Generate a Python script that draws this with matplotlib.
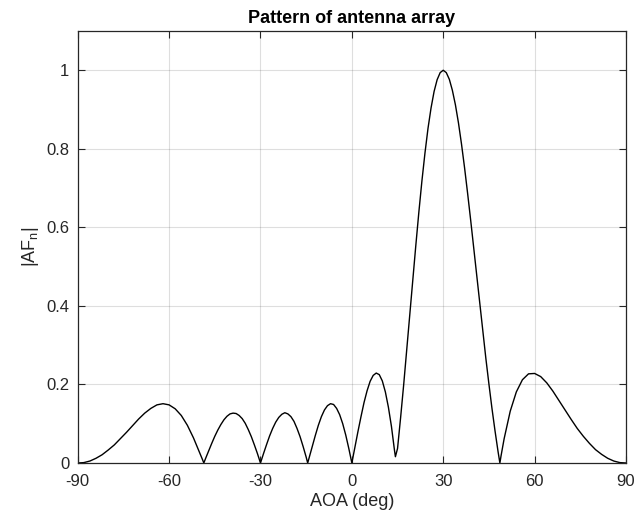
import matplotlib
matplotlib.use("Agg")
import matplotlib.pyplot as plt

# angle of arrival (deg) and normalised array factor magnitude
aoa = [-90, -88, -86, -84, -82, -80, -78, -76, -74, -72, -70, -68, -66, -64, -62,
       -60, -58, -56, -54, -52, -50, -49, -48.6, -48, -47, -46, -45, -44, -43, -42,
       -41, -40, -39, -38, -37, -36, -35, -34, -33, -32, -31, -30, -29, -28, -27,
       -26, -25, -24, -23, -22, -21, -20, -19, -18, -17, -16, -15, -14.5, -14, -13,
       -12, -11, -10, -9, -8, -7, -6, -5, -4, -3, -2, -1, 0, 1, 2, 3, 4, 5, 6, 7,
       8, 9, 10, 11, 12, 13, 14, 14.3, 15, 16, 17, 18, 19, 20, 21, 22, 23, 24, 25,
       26, 27, 28, 29, 30, 31, 32, 33, 34, 35, 36, 37, 38, 39, 40, 41, 42, 43, 44,
       45, 46, 47, 48, 48.6, 49, 50, 52, 54, 56, 58, 60, 62, 64, 66, 68, 70, 72,
       74, 76, 78, 80, 82, 84, 86, 88, 90]
af = [0.0, 0.001, 0.005, 0.012, 0.021, 0.033, 0.046, 0.062, 0.078, 0.095, 0.112,
      0.127, 0.139, 0.148, 0.151, 0.148, 0.138, 0.121, 0.096, 0.064, 0.027, 0.008,
      0.0, 0.012, 0.031, 0.050, 0.068, 0.084, 0.098, 0.110, 0.119, 0.125, 0.127,
      0.126, 0.121, 0.113, 0.101, 0.085, 0.067, 0.046, 0.024, 0.0, 0.024, 0.047,
      0.069, 0.088, 0.104, 0.116, 0.124, 0.128, 0.125, 0.118, 0.106, 0.088, 0.067,
      0.042, 0.015, 0.0, 0.014, 0.043, 0.070, 0.096, 0.118, 0.135, 0.146, 0.151,
      0.149, 0.139, 0.123, 0.100, 0.071, 0.037, 0.0, 0.040, 0.080, 0.118, 0.154,
      0.184, 0.208, 0.223, 0.229, 0.225, 0.209, 0.181, 0.142, 0.093, 0.032, 0.016,
      0.037, 0.115, 0.198, 0.286, 0.376, 0.466, 0.554, 0.639, 0.718, 0.789, 0.852,
      0.904, 0.946, 0.976, 0.994, 1.0, 0.994, 0.977, 0.949, 0.912, 0.866, 0.812,
      0.752, 0.687, 0.619, 0.548, 0.476, 0.405, 0.334, 0.266, 0.201, 0.139, 0.082,
      0.029, 0.0, 0.019, 0.062, 0.132, 0.181, 0.212, 0.227, 0.228, 0.220, 0.204,
      0.183, 0.159, 0.135, 0.111, 0.088, 0.068, 0.050, 0.034, 0.022, 0.012, 0.005,
      0.001, 0.0]

x_ticks = [-90, -60, -30, 0, 30, 60, 90]
y_ticks = [0, 0.2, 0.4, 0.6, 0.8, 1]
y_labels = ["0", "0.2", "0.4", "0.6", "0.8", "1"]

plt.rcParams["font.family"] = ["Liberation Sans", "DejaVu Sans"]
plt.rcParams["mathtext.default"] = "regular"
plt.rcParams["axes.unicode_minus"] = False

ink = "#262626"
fig = plt.figure(figsize=(6.35, 5.19), dpi=100)
ax = fig.add_axes([0.1224, 0.1079, 0.8634, 0.8324])
ax.plot(aoa, af, color="black", lw=1.0)

ax.set_xlim(-90, 90)
ax.set_ylim(0, 1.1)
ax.set_xticks(x_ticks)
ax.set_yticks(y_ticks)
ax.set_yticklabels(y_labels)
ax.grid(True, color=ink, alpha=0.15, lw=0.8)
ax.tick_params(direction="in", length=5, width=0.8, colors=ink, labelsize=12,
               top=True, right=True, labeltop=False, labelright=False)
ax.tick_params(axis="x", pad=8)
ax.tick_params(axis="y", pad=6)
for s in ax.spines.values():
    s.set_color(ink)
    s.set_linewidth(0.9)

ax.set_xlabel("AOA (deg)", fontsize=13, color=ink, labelpad=3)
ax.set_ylabel("|AF$_n$|", fontsize=13, color=ink, labelpad=4)
ax.set_title("Pattern of antenna array", fontsize=13, fontweight="bold", pad=6)

fig.savefig("out.png", dpi=100)
